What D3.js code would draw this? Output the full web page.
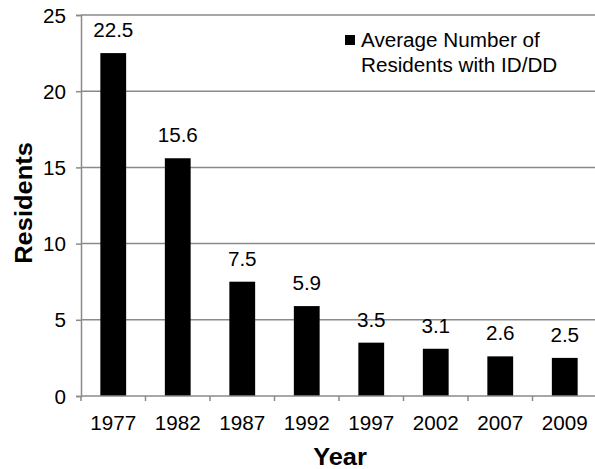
<!DOCTYPE html>
<html><head><meta charset="utf-8">
<script src="https://cdn.jsdelivr.net/npm/d3@7"></script>
<style>
body{margin:0;background:#fff;}
svg{display:block;font-family:"Liberation Sans",Arial,sans-serif;}
</style></head>
<body><svg id="c" width="595" height="469"></svg>
<script>
const years = ["1977","1982","1987","1992","1997","2002","2007","2009"];
const residents = [22.5, 15.6, 7.5, 5.9, 3.5, 3.1, 2.6, 2.5];
const yTicks = [0, 5, 10, 15, 20, 25];
const seriesName = ["Average Number of", "Residents with ID/DD"];
const xTitle = "Year", yTitle = "Residents";

(function () {
const svg = d3.select("#c");
const SX = 1.06, FS = 19.5;
const pL = 81, pR = 597, pT = 15, pB = 396;
const x = d3.scaleBand().domain(years).range([pL, pR]).paddingInner(0.6).paddingOuter(0.3);
const step = x.step();
const y = d3.scaleLinear().domain([0, 25]).range([pB, pT]);
const grey = "#8a8a8a";

// gridlines
svg.append("g").selectAll("line").data(yTicks.filter(d => d > 0)).join("line")
  .attr("x1", pL).attr("x2", pR).attr("y1", d => y(d)).attr("y2", d => y(d))
  .attr("stroke", grey).attr("stroke-width", 1.5);

// bars
svg.append("g").selectAll("rect").data(years).join("rect")
  .attr("x", d => x(d)).attr("width", x.bandwidth())
  .attr("y", (d, i) => y(residents[i])).attr("height", (d, i) => y(0) - y(residents[i]))
  .attr("fill", "#000");

// data labels
svg.append("g").selectAll("text").data(years).join("text")
  .attr("transform", (d, i) => `translate(${x(d) + x.bandwidth() / 2},${y(residents[i]) - 16}) scale(${SX},1)`)
  .attr("text-anchor", "middle").attr("font-size", FS).attr("fill", "#000")
  .text((d, i) => residents[i].toFixed(1));

// y axis
const yAxis = d3.axisLeft(y).tickValues(yTicks).tickSize(5).tickPadding(0).tickFormat(d3.format("d"));
const gy = svg.append("g").attr("transform", `translate(${pL},0)`).call(yAxis);
gy.select(".domain").attr("stroke", grey).attr("stroke-width", 1.5);
gy.selectAll(".tick line").attr("stroke", grey).attr("stroke-width", 1.5);
gy.selectAll(".tick text").attr("font-size", FS).attr("font-family", "Liberation Sans, Arial, sans-serif")
  .attr("fill", "#000").attr("x", null).attr("dy", null)
  .attr("transform", `translate(-15,7) scale(${SX},1)`);

// x axis (ticks at band boundaries)
const gx = svg.append("g").attr("transform", `translate(0,${pB})`);
gx.append("line").attr("x1", pL).attr("x2", pR).attr("stroke", grey).attr("stroke-width", 1.5);
const bounds = years.map(d => x(d) - x.paddingOuter() * step).concat([pR]);
gx.selectAll("line.tk").data(bounds).join("line").attr("class", "tk")
  .attr("x1", d => d).attr("x2", d => d).attr("y1", 0).attr("y2", 5)
  .attr("stroke", grey).attr("stroke-width", 1.5);
gx.selectAll("text").data(years).join("text")
  .attr("transform", d => `translate(${x(d) + x.bandwidth() / 2},34) scale(${SX},1)`)
  .attr("text-anchor", "middle").attr("font-size", FS).attr("fill", "#000").text(d => d);

// axis titles
svg.append("text").attr("transform", `translate(340,465) scale(${SX},1)`)
  .attr("text-anchor", "middle").attr("font-size", 24).attr("font-weight", "bold").text(xTitle);
svg.append("text").attr("transform", `translate(32,203) rotate(-90) scale(${SX},1)`)
  .attr("text-anchor", "middle").attr("font-size", 24).attr("font-weight", "bold").text(yTitle);

// legend
const lg = svg.append("g");
lg.append("rect").attr("x", 345).attr("y", 35).attr("width", 10).attr("height", 10).attr("fill", "#000");
lg.selectAll("text").data(seriesName).join("text")
  .attr("transform", (d, i) => `translate(361,${47 + i * 25}) scale(${SX},1)`)
  .attr("font-size", FS).attr("fill", "#000").text(d => d);
})();
</script></body></html>
